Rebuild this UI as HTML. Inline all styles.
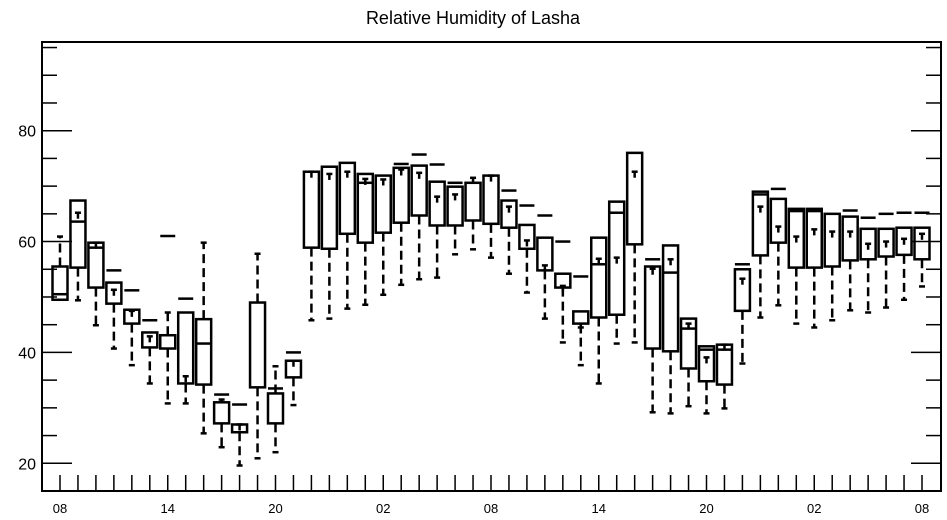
<!DOCTYPE html>
<html><head><meta charset="utf-8"><style>
html,body{margin:0;padding:0;background:#fff;}
svg{display:block;font-family:"Liberation Sans",Arial,sans-serif;}
</style></head><body>
<svg id="chart" width="947" height="520" viewBox="0 0 947 520" xmlns="http://www.w3.org/2000/svg">
<text x="473" y="24" text-anchor="middle" font-size="18">Relative Humidity of Lasha</text>
<g id="marks"></g>
<rect x="42" y="42" width="899" height="449" fill="none" stroke="#000" stroke-width="2"/>
<g id="axes"></g>
</svg>
<script>
const xLabels = ["08","14","20","02","08","14","20","02","08"];
const yTicks = [20,40,60,80];
const mins = [49.5,49.4,44.9,40.7,37.7,34.4,30.8,30.8,25.4,22.9,19.6,20.9,22,30.5,45.8,46.1,47.9,48.6,50.4,52.2,53.2,53.5,57.7,58.6,57.1,54.2,50.8,46.1,41.8,37.7,34.4,41.6,41.8,29.2,29,30.3,29,29.9,38,46.3,48.5,45.2,44.5,45.8,47.6,47.2,48.1,49.5,51.9];
const q1 = [49.5,55.3,51.7,48.8,45.2,40.9,40.7,34.4,34.2,27.2,25.6,33.7,27.2,35.5,58.9,58.7,61.4,59.8,61.6,63.4,64.7,62.9,62.9,63.8,63.2,62.5,58.7,54.8,51.7,45.2,46.3,46.8,59.5,40.7,40.2,37.1,34.8,34.2,47.5,57.5,59.8,55.3,55.3,55.5,56.6,56.8,57.3,57.6,56.8];
const med = [50.5,63.6,58.9,52.6,45.2,40.9,40.7,34.4,41.6,27.2,25.6,33.7,27.2,35.5,58.9,58.7,61.4,70.6,61.6,63.4,64.7,62.9,62.9,63.8,63.2,62.5,58.7,54.8,51.7,45.2,55.9,65.2,59.5,40.7,54.4,44.3,40.5,40.5,47.5,68.5,59.8,65.5,65.5,55.5,56.6,56.8,57.3,57.6,56.8];
const q3 = [55.5,67.4,59.8,52.6,47.7,43.6,43.1,47.2,46,31,27,49,32.6,38.5,72.6,73.5,74.2,72.2,71.9,73.3,73.7,70.8,69.9,70.6,71.9,67.4,63,60.7,54.2,47.4,60.7,67.2,76,55.5,59.3,46.1,41.1,41.4,55,69,67.7,65.9,65.9,65,64.5,62.3,62.3,62.5,62.5];
const tops = [60.9,65.2,59.8,51.3,47.5,42.9,47.2,35.7,59.8,31.5,27,57.8,37.5,38.5,72.6,72.2,72.6,71.3,71.2,73,72.4,68.1,68.5,71.5,71.9,66.3,60.2,55.7,52,44.5,56.9,57.1,72.6,55.1,56.8,45.2,39.1,41.4,53.3,66.3,62.7,60.9,62.2,61.8,61.8,59.6,60,60.5,61.4];
const dashes = [null,null,null,54.8,51.2,45.8,61,49.7,null,32.4,30.6,null,33.5,40,null,null,null,null,null,74,75.7,73.9,70.6,null,null,69.2,66.5,64.7,60,53.7,null,null,null,56.8,null,null,null,null,55.9,null,69.5,null,null,null,65.6,64.3,65,65.2,65.2];

const L=42,R=941,T=42,B=491,YMIN=15,YMAX=96;
const step=(922-60)/48;
function xs(i){return 60+i*step;}
function ys(v){return B-(v-YMIN)/(YMAX-YMIN)*(B-T);}
const NS="http://www.w3.org/2000/svg";
const marks=document.getElementById('marks');
const axes=document.getElementById('axes');
function mk(tag,attrs,parent){const e=document.createElementNS(NS,tag);for(const k in attrs)e.setAttribute(k,attrs[k]);parent.appendChild(e);return e;}
const hw=7.5;
for(let i=0;i<mins.length;i++){
  const g=mk('g',{},marks);
  
  
  const x=xs(i);
  // lower whisker
  if(q1[i]-mins[i]>0.3){
    const w=mk('line',{x1:x,x2:x,y1:ys(q1[i]),y2:ys(mins[i]),stroke:'#000','stroke-width':2.5,'stroke-dasharray':'9,5'},g);
    
    
    const c=mk('line',{x1:x-3,x2:x+3,y1:ys(mins[i]),y2:ys(mins[i]),stroke:'#000','stroke-width':2.5},g);
    
    
  }
  // upper whisker
  if(tops[i]>q3[i]+0.3){
    const w=mk('line',{x1:x,x2:x,y1:ys(q3[i]),y2:ys(tops[i]),stroke:'#000','stroke-width':2.5,'stroke-dasharray':'9,5'},g);
    
    
  }
  const b=mk('rect',{x:x-hw,y:ys(q3[i]),width:2*hw,height:Math.max(1,ys(q1[i])-ys(q3[i])),fill:'#fff',stroke:'#000','stroke-width':2.5},g);
  
  
  if(med[i]>q1[i]+0.3&&med[i]<q3[i]-0.3){
    const m=mk('line',{x1:x-hw,x2:x+hw,y1:ys(med[i]),y2:ys(med[i]),stroke:'#000','stroke-width':2.5},g);
    
    
  }
  if(tops[i]<=q3[i]+0.3){
    const s=mk('line',{x1:x,x2:x,y1:ys(tops[i]),y2:ys(tops[i])+6,stroke:'#000','stroke-width':2.5},g);
    
    
  }
  const c2=mk('line',{x1:x-3,x2:x+3,y1:ys(tops[i]),y2:ys(tops[i]),stroke:'#000','stroke-width':2.5},g);
  
  
  if(dashes[i]!==null){
    const d=mk('line',{x1:x-hw,x2:x+hw,y1:ys(dashes[i]),y2:ys(dashes[i]),stroke:'#000','stroke-width':2.5},g);
    
    
  }
}
// y ticks
for(let v=20;v<=95;v+=5){
  const major=yTicks.indexOf(v)>=0;
  const t=mk('line',{x1:L,x2:L+(major?30:15),y1:ys(v),y2:ys(v),stroke:'#000','stroke-width':1.5},axes);
  
  
  const t2=mk('line',{x1:R,x2:R-(major?30:15),y1:ys(v),y2:ys(v),stroke:'#000','stroke-width':1.5},axes);
  
  
}
yTicks.forEach(v=>{
  const tx=mk('text',{x:L-6,y:ys(v)+6,'text-anchor':'end','font-size':16},axes);
  tx.textContent=v;
  
  
});
// x ticks
for(let i=0;i<mins.length;i++){
  const t=mk('line',{x1:xs(i),x2:xs(i),y1:B,y2:B-16,stroke:'#000','stroke-width':1.5},axes);
  
  
}
xLabels.forEach((lab,k)=>{
  const tx=mk('text',{x:xs(k*6),y:513,'text-anchor':'middle','font-size':13},axes);
  tx.textContent=lab;
  
  
});
</script>
</body></html>
